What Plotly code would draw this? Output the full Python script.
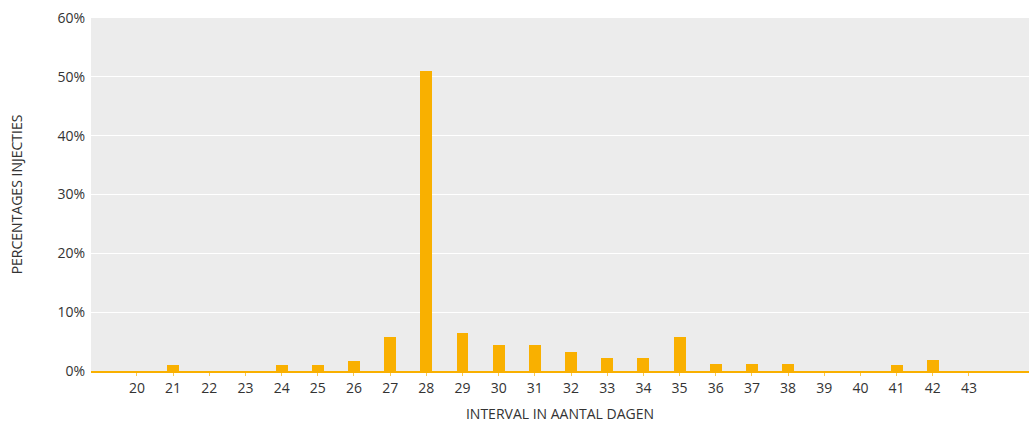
import plotly.graph_objects as go

# Interval between injections (days) and share of injections (%)
dagen = list(range(20, 44))
percentages = [0, 1.0, 0, 0, 1.0, 1.0, 1.7, 5.8, 51.0, 6.5, 4.4, 4.4,
               3.2, 2.2, 2.2, 5.8, 1.2, 1.2, 1.2, 0, 0, 1.0, 1.9, 0]
y_ticks = [0, 10, 20, 30, 40, 50, 60]

ORANJE = "#F9B000"
FONT = "Open Sans, Noto Sans, sans-serif"
TEKST = "#333333"

fig = go.Figure(
    go.Bar(
        x=dagen,
        y=percentages,
        width=0.33,
        marker=dict(color=ORANJE, line=dict(width=0)),
        hovertemplate="%{x}: %{y}%<extra></extra>",
    )
)

fig.update_layout(
    width=1029,
    height=423,
    margin=dict(l=91, r=0, t=18, b=52),
    paper_bgcolor="white",
    plot_bgcolor="#ECECEC",
    font=dict(family=FONT, size=14, color=TEKST),
    showlegend=False,
    bargap=0,
)

fig.update_xaxes(
    range=[18.73, 44.66],
    tickmode="array",
    tickvals=dagen,
    ticktext=[str(d) for d in dagen],
    showgrid=False,
    zeroline=False,
    showline=True,
    linecolor=ORANJE,
    linewidth=2,
    ticks="outside",
    ticklen=3,
    tickwidth=1,
    tickcolor="#F9C850",
    tickfont=dict(size=14, color=TEKST),
    title=dict(text="INTERVAL IN AANTAL DAGEN", standoff=15,
               font=dict(size=14, color=TEKST)),
)

fig.update_yaxes(
    range=[0, 60],
    tickmode="array",
    tickvals=y_ticks,
    ticktext=[f"{v}%" for v in y_ticks],
    showgrid=True,
    gridcolor="white",
    gridwidth=1,
    zeroline=False,
    showline=False,
    ticks="",
    ticklabelstandoff=5,
    tickfont=dict(size=14, color=TEKST),
    title=dict(text="PERCENTAGES INJECTIES", standoff=31,
               font=dict(size=14, color=TEKST)),
)

fig.write_html("out.html")
